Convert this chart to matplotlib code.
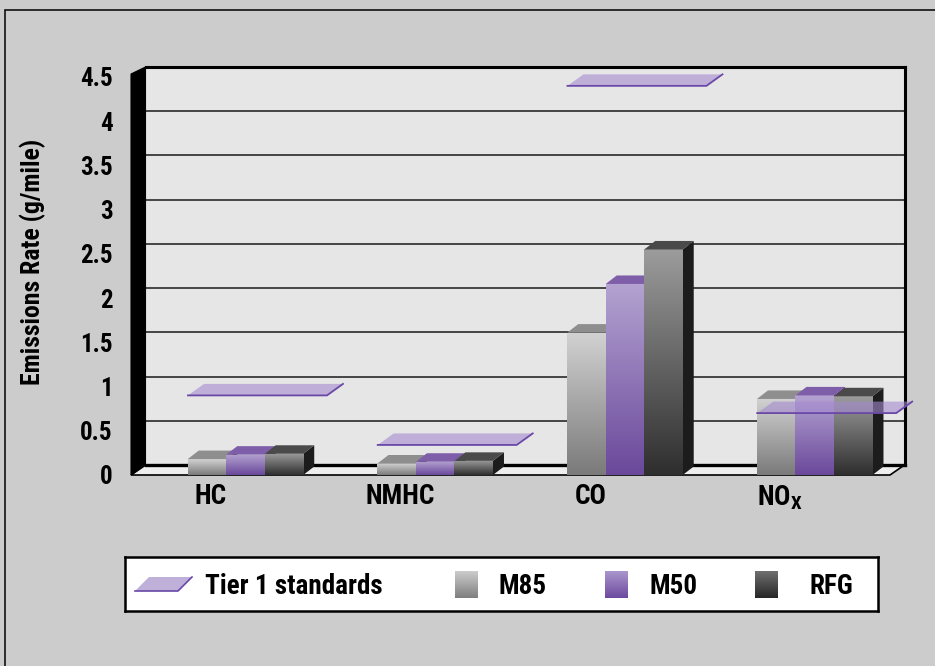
import numpy as np
import matplotlib
matplotlib.use("Agg")
import matplotlib.pyplot as plt
from matplotlib import font_manager
from matplotlib.patches import Polygon, Rectangle
from matplotlib.colors import LinearSegmentedColormap

# ---- data -------------------------------------------------------------
categories = ["HC", "NMHC", "CO", r"NO$_{\mathrm{X}}$"]
m85 = [0.18, 0.13, 1.61, 0.86]
m50 = [0.23, 0.15, 2.16, 0.90]
rfg = [0.24, 0.16, 2.55, 0.89]
tier1 = [0.90, 0.34, 4.40, 0.70]
series_names = ["M85", "M50", "RFG"]
legend_tier = "Tier 1 standards"
y_label = "Emissions Rate (g/mile)"
yticks = [0, 0.5, 1, 1.5, 2, 2.5, 3, 3.5, 4, 4.5]
ytick_labels = ["0", "0.5", "1", "1.5", "2", "2.5", "3", "3.5", "4", "4.5"]


def pick_font(cands):
    names = {f.name for f in font_manager.fontManager.ttflist}
    for c in cands:
        if c in names:
            return c
    return "DejaVu Sans"


NARROW = pick_font(["Liberation Sans Narrow", "Roboto Condensed",
                    "Liberation Sans", "DejaVu Sans"])
plt.rcParams["font.family"] = [NARROW, "DejaVu Sans"]
plt.rcParams["font.weight"] = "bold"
plt.rcParams["mathtext.fontset"] = "custom"
plt.rcParams["mathtext.rm"] = NARROW + ":bold"
plt.rcParams["mathtext.it"] = NARROW + ":bold"
plt.rcParams["mathtext.bf"] = NARROW + ":bold"

W, H = 935, 666
fig = plt.figure(figsize=(W / 100, H / 100), dpi=100, facecolor="#cccccc")

# outer frame
fig.patches.append(Rectangle((5 / W, -0.01), 1.0, (H - 10) / H + 0.01,
                             transform=fig.transFigure, fill=False,
                             edgecolor="#111111", lw=1.2))

# main axes: front plane of the 3-D box
X0, X1, Y0, YTOP = 131, 890, 475, 77
ax = fig.add_axes([X0 / W, (H - Y0) / H, (X1 - X0) / W, (Y0 - YTOP) / H])
ax.set_xlim(-0.5, 3.5)
ax.set_ylim(0, 4.5)
ax.patch.set_visible(False)
for s in ax.spines.values():
    s.set_visible(False)

SX = (X1 - X0) / 4.0          # px per category unit
SY = (Y0 - YTOP) / 4.5        # px per value unit


def off(px, py):
    return px / SX, py / SY


wdx, wdy = off(14.5, 10)      # wall depth
bdx, bdy = off(11, 8.5)       # bar depth
pdx, pdy = off(16, 11.5)      # standards plane depth
bw = 38.5 / SX
shift = 19.6 / SX
plane_w = 139 / SX
plane_shift = 12 / SX

# back wall
ax.add_patch(Rectangle((-0.5 + wdx, wdy), 4.0, 4.5, facecolor="#e6e6e6",
                       edgecolor="none", zorder=0, clip_on=False))
for v in yticks[1:]:
    ax.plot([-0.5 + wdx, 3.5 + wdx], [v + wdy, v + wdy], color="#2a2a2a",
            lw=1.2, zorder=0.5, clip_on=False, solid_capstyle="butt")
ax.plot([-0.5 + wdx, 3.5 + wdx], [4.5 + wdy, 4.5 + wdy], color="black",
        lw=2.2, zorder=0.6, clip_on=False)
ax.plot([3.5 + wdx, 3.5 + wdx], [wdy, 4.5 + wdy], color="black",
        lw=2.2, zorder=0.6, clip_on=False)

# floor
ax.add_patch(Polygon([(-0.5, 0), (3.5, 0), (3.5 + wdx, wdy), (-0.5 + wdx, wdy)],
                     closed=True, facecolor="#eeeeee", edgecolor="black",
                     lw=1.2, zorder=1, clip_on=False))
ax.plot([-0.5 + wdx, 3.5 + wdx], [wdy, wdy], color="black", lw=2.4,
        zorder=1.1, clip_on=False)

# left wall
ax.add_patch(Polygon([(-0.5, 0), (-0.5, 4.5 + 3 / SY), (-0.5 + wdx, 4.5 + wdy),
                      (-0.5 + wdx, wdy)], closed=True, facecolor="black",
                     edgecolor="black", lw=0.8, zorder=1.2, clip_on=False))

# bar styles: front gradient (top, bottom), top face, side face
styles = [
    ("#d2d2d2", "#7a7a7a", "#8e8e8e", "#555555"),
    ("#b4a3d1", "#6a489b", "#7e5ea9", "#4a3170"),
    ("#9c9c9c", "#2e2e2e", "#4a4a4a", "#1c1c1c"),
]
grad = np.linspace(0, 1, 256).reshape(-1, 1)

for i in range(len(categories)):
    c = i + shift
    for j, vals in enumerate([m85, m50, rfg]):
        h = vals[i]
        left = c + (j - 1.5) * bw
        z = 2 + i * 0.3 + j * 0.05
        ctop, cbot, ctopface, cside = styles[j]
        ax.add_patch(Polygon([(left + bw, 0), (left + bw + bdx, bdy),
                              (left + bw + bdx, h + bdy), (left + bw, h)],
                             closed=True, facecolor=cside, edgecolor="none",
                             zorder=z))
        rect = Rectangle((left, 0), bw, h, facecolor="none", edgecolor="none",
                         zorder=z + 0.01)
        ax.add_patch(rect)
        cmap = LinearSegmentedColormap.from_list("g", [ctop, cbot])
        im = ax.imshow(grad, cmap=cmap, extent=[left, left + bw, 0, h],
                       aspect="auto", interpolation="bilinear", zorder=z + 0.01,
                       origin="upper")
        im.set_clip_path(rect)
        ax.add_patch(Polygon([(left, h), (left + bw, h), (left + bw + bdx, h + bdy),
                              (left + bdx, h + bdy)], closed=True,
                             facecolor=ctopface, edgecolor="none", zorder=z + 0.02))

# Tier 1 standard planes
for i, v in enumerate(tier1):
    pc = i + shift + plane_shift
    fl, fr = pc - plane_w / 2, pc + plane_w / 2
    ax.add_patch(Polygon([(fl, v), (fr, v), (fr + pdx, v + pdy), (fl + pdx, v + pdy)],
                         closed=True, facecolor="#a58bd0", alpha=0.6,
                         edgecolor="none", zorder=5, clip_on=False))
    ax.plot([fl, fr, fr + pdx], [v, v, v + pdy], color="#6a48a8", lw=1.3,
            zorder=5.1, clip_on=False, solid_joinstyle="miter")

ax.set_xlim(-0.5, 3.5)
ax.set_ylim(0, 4.5)

# ticks
ax.set_yticks(yticks)
ax.set_yticklabels(ytick_labels, fontsize=18, fontweight="bold")
ax.tick_params(axis="y", length=0, pad=13)
ax.set_xticks([i - 0.08 for i in range(len(categories))])
ax.set_xticklabels(categories, fontsize=19.5, fontweight="bold")
ax.tick_params(axis="x", length=0, pad=6)

fig.text(33 / W, 1 - 262 / H, y_label, rotation=90, ha="center", va="center",
         fontsize=18.5, fontweight="bold")

# legend box
LX0, LX1, LY0, LY1 = 125, 878, 557, 611
lax = fig.add_axes([LX0 / W, (H - LY1) / H, (LX1 - LX0) / W, (LY1 - LY0) / H])
lax.set_xlim(0, LX1 - LX0)
lax.set_ylim(0, LY1 - LY0)
lax.set_xticks([])
lax.set_yticks([])
lax.set_facecolor("white")
for s in lax.spines.values():
    s.set_linewidth(1.8)
    s.set_color("black")

lax.add_patch(Polygon([(10, 20), (53, 20), (67, 34), (24, 34)], closed=True,
                      facecolor="#bfb0d9", edgecolor="none"))
lax.plot([10, 53, 67], [20, 20, 34], color="#6a48a8", lw=1.2)
lax.text(80, 25, legend_tier, fontsize=19.5, fontweight="bold", va="center",
         ha="left")

swatch_cols = [("#cdcdcd", "#7e7e7e"), ("#ab97cd", "#6c499e"), ("#707070", "#262626")]
sw_x = [330, 480, 630]
tx_x = [374, 525, 685]
for k, name in enumerate(series_names):
    cmap = LinearSegmentedColormap.from_list("s", list(swatch_cols[k]))
    lax.imshow(grad, cmap=cmap, extent=[sw_x[k], sw_x[k] + 23, 13, 40],
               aspect="auto", interpolation="bilinear", origin="upper")
    lax.text(tx_x[k], 25, name, fontsize=19.5, fontweight="bold", va="center",
             ha="left")
lax.set_xlim(0, LX1 - LX0)
lax.set_ylim(0, LY1 - LY0)

fig.savefig("out.png", dpi=100, facecolor=fig.get_facecolor())
